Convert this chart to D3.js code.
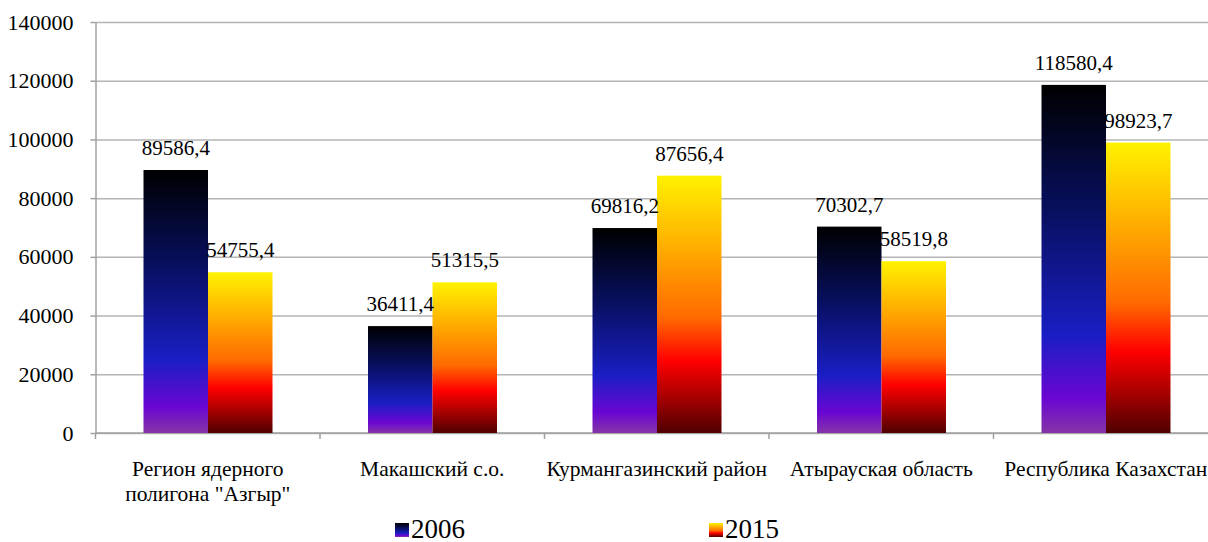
<!DOCTYPE html>
<html>
<head>
<meta charset="utf-8">
<script src="https://cdn.jsdelivr.net/npm/d3@7"></script>
<style>
  body { margin: 0; background: #fff; }
  svg text { font-family: "Liberation Serif", "DejaVu Serif", "Times New Roman", serif !important; fill: #000; }
</style>
</head>
<body>
<svg width="1208" height="542"></svg>
<script>
var categories = ["Регион ядерного|полигона \"Азгыр\"", "Макашский с.о.", "Курмангазинский район", "Атырауская область", "Республика Казахстан"];
var series = ["2006", "2015"];
var values2006 = [89586.4, 36411.4, 69816.2, 70302.7, 118580.4];
var values2015 = [54755.4, 51315.5, 87656.4, 58519.8, 98923.7];
var valueLabels2006 = ["89586,4", "36411,4", "69816,2", "70302,7", "118580,4"];
var valueLabels2015 = ["54755,4", "51315,5", "87656,4", "58519,8", "98923,7"];
var yTicks = [0, 20000, 40000, 60000, 80000, 100000, 120000, 140000];

var svg = d3.select("svg"),
    plotLeft = 95.5, plotTop = 22, plotBottom = 433, band = 224.5;

var x = d3.scaleBand().domain(d3.range(categories.length))
    .range([plotLeft, plotLeft + band * categories.length]).paddingInner(0).paddingOuter(0);
var xs = d3.scaleBand().domain(series).range([48, 48 + 129]);
var y = d3.scaleLinear().domain([0, 140000]).range([plotBottom, plotTop]);

var defs = svg.append("defs");
var grads = {
  "2006": [[0, "#000000"], [0.35, "#070f5c"], [0.72, "#1a1ec4"], [0.9, "#6a06d2"], [1, "#8535a6"]],
  "2015": [[0, "#fff200"], [0.3, "#ffa800"], [0.55, "#ff6a00"], [0.72, "#ff0000"], [1, "#500000"]]
};
series.forEach(function(s) {
  var g = defs.append("linearGradient").attr("id", "g" + s)
      .attr("x1", 0).attr("y1", 0).attr("x2", 0).attr("y2", 1);
  grads[s].forEach(function(st) {
    g.append("stop").attr("offset", st[0]).attr("stop-color", st[1]);
  });
});

// gridlines
svg.append("g")
    .attr("transform", "translate(" + plotLeft + ",0)")
    .call(d3.axisLeft(y).tickValues(yTicks).tickSize(-1208).tickFormat(""))
    .call(function(g) {
      g.select(".domain").remove();
      g.selectAll("line").attr("stroke", "#b4b4b4").attr("stroke-width", 1.5);
    });

// y axis
svg.append("g")
    .attr("transform", "translate(" + plotLeft + ",0)")
    .call(d3.axisLeft(y).tickValues(yTicks).tickSize(5).tickPadding(17).tickSizeOuter(0).tickFormat(d3.format("d")))
    .call(function(g) {
      g.attr("font-family", null);
      g.select(".domain").attr("stroke", "#a0a0a0").attr("stroke-width", 1.5);
      g.selectAll("line").attr("stroke", "#a0a0a0").attr("stroke-width", 1.5);
      g.selectAll("text").style("font-size", "22px").attr("fill", "#000");
    });

// x axis
var xAxis = svg.append("g").attr("transform", "translate(0," + plotBottom + ")");
xAxis.append("line").attr("x1", plotLeft).attr("x2", 1208).attr("stroke", "#a0a0a0").attr("stroke-width", 1.5);
xAxis.selectAll(".tk").data(d3.range(categories.length)).enter().append("line")
    .attr("x1", function(d) { return x(d); }).attr("x2", function(d) { return x(d); })
    .attr("y1", 0).attr("y2", 6).attr("stroke", "#a0a0a0").attr("stroke-width", 1.5);

xAxis.selectAll(".cat").data(categories).enter().append("text")
    .attr("text-anchor", "middle")
    .style("font-size", "21.5px")
    .each(function(d, i) {
      var t = d3.select(this);
      d.split("|").forEach(function(line, j) {
        t.append("tspan").attr("x", x(i) + band / 2).attr("y", 43 + j * 25).text(line);
      });
    });

// bars
var data = [values2006, values2015];
var labels = [valueLabels2006, valueLabels2015];
series.forEach(function(s, si) {
  svg.append("g").selectAll("rect").data(data[si]).enter().append("rect")
      .attr("x", function(d, i) { return x(i) + xs(s); })
      .attr("width", xs.bandwidth())
      .attr("y", function(d) { return y(d); })
      .attr("height", function(d) { return plotBottom - y(d); })
      .attr("fill", "url(#g" + s + ")");
});
series.forEach(function(s, si) {
  svg.append("g").selectAll("text").data(data[si]).enter().append("text")
      .attr("x", function(d, i) { return x(i) + xs(s) + xs.bandwidth() / 2; })
      .attr("y", function(d) { return y(d) - 15; })
      .attr("text-anchor", "middle")
      .style("font-size", "21px")
      .text(function(d, i) { return labels[si][i]; });
});

// legend
var legendX = [395, 709];
series.forEach(function(s, si) {
  var lg = svg.append("g").attr("transform", "translate(" + legendX[si] + ",523)");
  lg.append("rect").attr("width", 14).attr("height", 14).attr("fill", "url(#g" + s + ")");
  lg.append("text").attr("x", 16).attr("y", 14.5).style("font-size", "27px").text(s);
});
</script>
</body>
</html>
